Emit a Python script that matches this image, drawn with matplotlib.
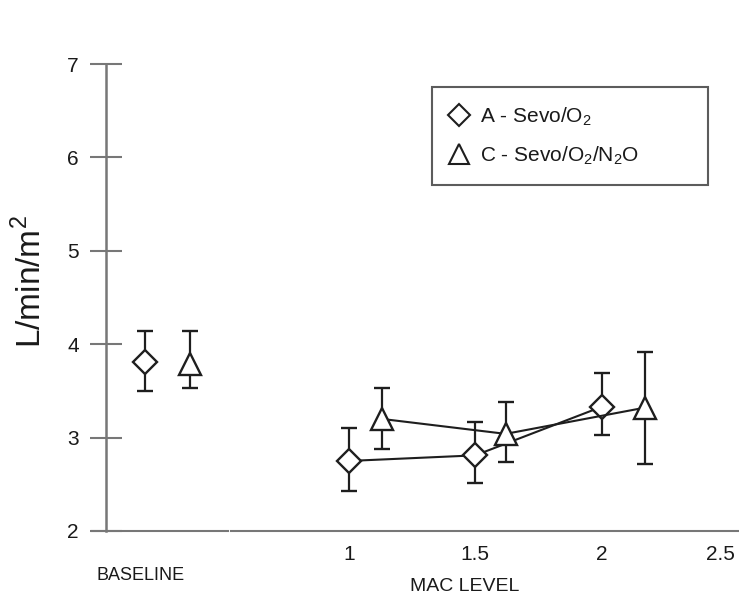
import matplotlib
matplotlib.use('Agg')
import matplotlib.pyplot as plt
from matplotlib.lines import Line2D
from matplotlib.transforms import ScaledTranslation
import numpy as np

plt.rcParams['font.family'] = ['Liberation Sans', 'DejaVu Sans']
plt.rcParams['mathtext.fontset'] = 'custom'
plt.rcParams['mathtext.rm'] = 'Liberation Sans'

# baseline values (drawn left of the MAC scale)
base_x = [0.193, 0.371]
base_y = [3.81, 3.79]
base_lo = [3.50, 3.53]
base_hi = [4.14, 4.14]

# group A - Sevo/O2
mac_a = [1.0, 1.5, 2.0]
ci_a = [2.75, 2.81, 3.33]
lo_a = [2.43, 2.51, 3.03]
hi_a = [3.10, 3.17, 3.69]

# group C - Sevo/O2/N2O
mac_c = [1.13, 1.62, 2.17]
ci_c = [3.20, 3.04, 3.32]
lo_c = [2.88, 2.74, 2.72]
hi_c = [3.53, 3.38, 3.92]

xticks = [1, 1.5, 2, 2.5]
yticks = [2, 3, 4, 5, 6, 7]
labels = ['A - Sevo/O$_2$', 'C - Sevo/O$_2$/N$_2$O']

ink = '#1e1e1e'
axcol = '#777777'

fig = plt.figure(figsize=(7.39, 6.04), dpi=100)
ax = fig.add_axes([106/739, 73/604, 633/739, 467/604])
ax.set_xlim(0.0384, 2.5435)
ax.set_ylim(2, 7)

def err(y, lo, hi):
    y = np.array(y); return [y - np.array(lo), np.array(hi) - y]

kw = dict(color=ink, ecolor=ink, elinewidth=1.6, capsize=5.5, capthick=2.0,
          mfc='white', mec=ink, mew=1.7, lw=1.5)
ax.errorbar(base_x[:1], base_y[:1], yerr=err(base_y[:1], base_lo[:1], base_hi[:1]),
            fmt='D', ms=12, **kw)
ax.errorbar(base_x[1:], base_y[1:], yerr=err(base_y[1:], base_lo[1:], base_hi[1:]),
            fmt='^', ms=16, **kw)
ax.errorbar(mac_a, ci_a, yerr=err(ci_a, lo_a, hi_a), fmt='-D', ms=12, **kw)
ax.errorbar(mac_c, ci_c, yerr=err(ci_c, lo_c, hi_c), fmt='-^', ms=16, **kw)

for s in ['top', 'right', 'bottom']:
    ax.spines[s].set_visible(False)
ax.spines['left'].set_color(axcol)
ax.spines['left'].set_linewidth(1.8)

# broken bottom axis line
x0, x1 = ax.get_xlim()
ax.plot([x0 - 0.055, 0.523], [2, 2], color=axcol, lw=1.5, clip_on=False)
ax.plot([0.535, x1], [2, 2], color=axcol, lw=1.5, clip_on=False)

ax.set_yticks(yticks)
ax.set_yticklabels([str(v) for v in yticks])
ax.tick_params(axis='y', direction='inout', length=23, width=1.5, color=axcol,
               pad=8, labelsize=15, labelcolor='#1a1a1a')
ax.set_xticks(xticks)
ax.set_xticklabels(['1', '1.5', '2', '2.5'])
ax.tick_params(axis='x', length=0, pad=10, labelsize=15, labelcolor='#1a1a1a')
last = ax.get_xticklabels()[-1]
last.set_ha('right')
last.set_transform(last.get_transform() + ScaledTranslation(0.07, 0, fig.dpi_scale_trans))

ax.set_ylabel('L/min/m$^2$', fontsize=24, color='#1a1a1a')
ax.yaxis.set_label_coords(-0.092, 0.535)
ax.set_xlabel('MAC LEVEL', fontsize=14, color='#1a1a1a')
ax.xaxis.set_label_coords(0.567, -0.10)
ax.text(0.175, -0.077, 'BASELINE', transform=ax.get_xaxis_transform(),
        ha='center', va='top', fontsize=13, color='#1a1a1a')

handles = [Line2D([], [], marker='D', ms=11, mfc='white', mec=ink, mew=1.5, ls='none'),
           Line2D([], [], marker='^', ms=14, mfc='white', mec=ink, mew=1.5, ls='none')]
leg = ax.legend(handles, labels, loc='upper left', mode='expand',
                bbox_to_anchor=(432/739, 0, 276/739, 1 - 87/604),
                bbox_transform=fig.transFigure, fontsize=15, frameon=True,
                fancybox=False, borderpad=0.9, labelspacing=0.75, borderaxespad=0,
                handlelength=0.8, handletextpad=0.6)
leg.get_frame().set_edgecolor('#333333')
leg.get_frame().set_linewidth(1.5)
for t in leg.get_texts():
    t.set_color('#1a1a1a')

fig.savefig('out.png', dpi=100)
